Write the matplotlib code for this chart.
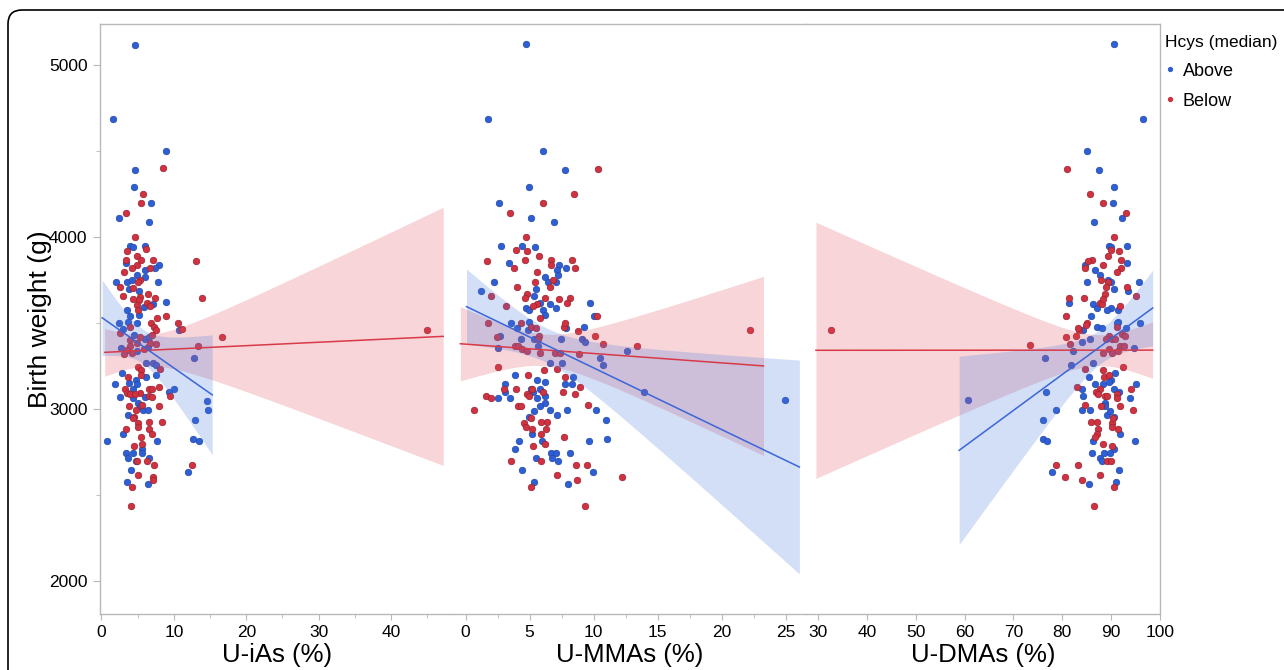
import numpy as np
import matplotlib.pyplot as plt
from matplotlib.lines import Line2D
from matplotlib.patches import FancyBboxPatch
from matplotlib.transforms import IdentityTransform

plt.rcParams['font.family'] = ['Liberation Sans', 'DejaVu Sans']

# Data: (exposure %, birth weight g)
# U-iAs panel
ias_above = [(4.6, 5120), (1.65, 4690), (8.9, 4500), (4.7, 4390), (4.46, 4290), (6.9, 4200), (2.48, 4110),
             (6.57, 4090), (3.9, 3950), (4.4, 3940), (6.0, 3950), (3.4, 3850), (7.95, 3840), (6.07, 3810),
             (7.36, 3820), (4.87, 3780), (6.07, 3770), (1.98, 3740), (3.54, 3740), (4.28, 3750), (7.77, 3740),
             (3.86, 3698), (5.2, 3688), (8.87, 3620), (7.08, 3610), (3.59, 3579), (5.84, 3591), (5.24, 3550),
             (4.0, 3541), (2.39, 3498), (3.68, 3508), (4.97, 3498), (2.94, 3463), (10.76, 3459), (4.55, 3430),
             (5.98, 3407), (2.71, 3357), (4.92, 3337), (12.78, 3297), (6.11, 3269), (7.08, 3269), (7.54, 3256),
             (2.85, 3207), (6.11, 3186), (7.59, 3196), (3.77, 3149), (1.93, 3145), (4.78, 3169), (4.97, 3145),
             (4.37, 3116), (10.07, 3116), (9.29, 3097), (2.57, 3068), (4.37, 3066), (6.02, 3068), (5.1, 3037),
             (5.38, 3017), (14.57, 3047), (5.75, 2996), (6.44, 2996), (14.67, 2996), (3.72, 2965), (12.87, 2936),
             (3.03, 2857), (0.83, 2816), (7.68, 2816), (12.64, 2826), (13.43, 2816), (5.66, 2766), (5.66, 2746),
             (3.4, 2746), (4.37, 2746), (3.72, 2717), (6.53, 2717), (4.78, 2696), (4.05, 2645), (11.91, 2636),
             (3.59, 2576), (6.44, 2566), (6.53, 3421), (6.39, 3362)]
ias_below = [(8.55, 4400), (5.75, 4250), (5.47, 4200), (3.45, 4140), (4.64, 4000), (3.59, 3920), (6.16, 3930),
             (4.87, 3890), (5.5, 3870), (7.08, 3870), (3.36, 3870), (4.92, 3840), (4.18, 3820), (6.7, 3820),
             (3.17, 3800), (5.33, 3750), (5.1, 3740), (13.1, 3860), (2.57, 3711), (4.32, 3707), (6.39, 3669),
             (7.36, 3649), (2.94, 3659), (5.33, 3653), (13.84, 3649), (4.37, 3638), (5.15, 3634), (6.25, 3618),
             (6.67, 3599), (4.87, 3605), (5.01, 3579), (7.72, 3527), (8.87, 3539), (6.8, 3498), (10.62, 3498),
             (3.91, 3479), (7.26, 3479), (7.59, 3459), (11.17, 3467), (2.57, 3440), (5.38, 3421), (7.03, 3430),
             (16.69, 3417), (3.95, 3401), (4.97, 3382), (7.54, 3378), (13.38, 3368), (3.95, 3366), (3.59, 3343),
             (5.93, 3347), (3.13, 3320), (4.18, 3328), (8.05, 3236), (5.06, 3246), (5.47, 3227), (5.43, 3198),
             (3.63, 3184), (8.0, 3126), (3.31, 3116), (6.62, 3116), (6.99, 3116), (3.59, 3095), (5.29, 3095),
             (9.47, 3078), (4.0, 3085), (4.6, 3085), (6.57, 3078), (6.99, 3068), (3.86, 3017), (5.66, 3025),
             (7.95, 3017), (4.74, 2994), (4.51, 2955), (4.41, 2950), (3.4, 2886), (5.1, 2917), (6.53, 2924),
             (8.37, 2926), (5.1, 2895), (6.53, 2886), (6.99, 2857), (5.47, 2835), (5.56, 2797), (4.51, 2787),
             (4.97, 2696), (6.3, 2696), (7.26, 2676), (12.51, 2676), (5.1, 2616), (7.08, 2607), (7.08, 2585),
             (4.18, 2547), (4.09, 2436), (6.67, 3382), (45.0, 3459)]

# U-MMAs panel
mma_above = [(4.75, 5122), (1.78, 4690), (6.05, 4500), (7.75, 4390), (4.96, 4289), (2.64, 4200), (5.12, 4109),
             (6.89, 4089), (2.77, 3950), (4.41, 3950), (5.46, 3940), (3.37, 3849), (7.33, 3839), (7.88, 3820),
             (7.17, 3808), (7.23, 3779), (2.25, 3738), (6.18, 3769), (6.45, 3738), (7.1, 3738), (1.24, 3688),
             (5.48, 3698), (5.33, 3659), (6.6, 3609), (4.7, 3589), (4.96, 3579), (9.75, 3618), (6.03, 3579),
             (7.07, 3589), (5.85, 3618), (6.21, 3548), (10.01, 3539), (3.58, 3498), (4.93, 3508), (4.05, 3469),
             (4.88, 3459), (7.88, 3469), (9.26, 3479), (2.7, 3428), (7.46, 3409), (9.1, 3409), (9.31, 3388),
             (2.51, 3357), (5.66, 3368), (10.48, 3298), (10.74, 3258), (12.59, 3337), (6.63, 3267), (7.57, 3267),
             (5.35, 3409), (4.36, 3409), (3.84, 3198), (3.09, 3147), (5.61, 3167), (6.23, 3157), (8.42, 3188),
             (7.8, 3147), (8.35, 3147), (3.09, 3097), (2.54, 3066), (3.48, 3066), (5.09, 3116), (5.3, 3097),
             (5.85, 3116), (5.59, 3066), (6.23, 3078), (6.23, 3037), (5.8, 3016), (5.38, 2986), (6.63, 2996),
             (7.12, 2967), (7.93, 2996), (10.22, 2996), (4.94, 2955), (10.98, 2936), (5.17, 2857), (6.0, 2816),
             (4.21, 2816), (9.62, 2816), (11.08, 2826), (3.87, 2766), (6.68, 2746), (7.05, 2746), (8.14, 2746),
             (5.51, 2715), (6.73, 2715), (7.25, 2696), (4.39, 2645), (9.99, 2636), (7.98, 2566), (5.38, 2576),
             (24.9, 3050), (13.9, 3099)]
mma_below = [(10.38, 4399), (8.5, 4250), (6.08, 4200), (3.5, 4138), (4.75, 4000), (3.92, 3928), (4.8, 3919),
             (5.77, 3890), (4.65, 3868), (6.7, 3868), (8.29, 3868), (1.71, 3859), (6.7, 3839), (3.82, 3820),
             (8.55, 3820), (5.61, 3798), (5.4, 3738), (6.84, 3748), (4.05, 3709), (6.58, 3709), (4.78, 3669),
             (4.67, 3649), (6.24, 3649), (7.3, 3640), (8.19, 3649), (7.96, 3618), (5.61, 3609), (5.27, 3599),
             (5.82, 3529), (3.16, 3599), (1.97, 3659), (1.76, 3498), (4.36, 3498), (5.12, 3479), (5.53, 3469),
             (5.72, 3428), (5.66, 3409), (2.49, 3417), (3.87, 3368), (4.13, 3368), (4.41, 3347), (4.78, 3339),
             (5.82, 3327), (6.99, 3327), (7.38, 3327), (8.89, 3318), (10.07, 3428), (10.74, 3378), (8.81, 3457),
             (7.67, 3479), (7.8, 3498), (10.3, 3539), (13.35, 3366), (2.51, 3246), (6.13, 3227), (7.17, 3236),
             (4.88, 3198), (3.02, 3116), (3.92, 3116), (5.17, 3116), (6.07, 3097), (1.58, 3076), (1.99, 3066),
             (4.8, 3087), (4.93, 3076), (7.59, 3097), (8.58, 3087), (8.94, 3126), (0.69, 2996), (4.08, 3016),
             (4.31, 3016), (9.6, 3025), (5.09, 2946), (4.6, 2917), (4.75, 2895), (5.2, 2886), (5.86, 2926),
             (6.39, 2926), (6.26, 2886), (5.92, 2857), (6.18, 2797), (5.27, 2787), (7.67, 2837), (3.58, 2696),
             (5.86, 2696), (8.66, 2676), (9.52, 2676), (7.17, 2616), (8.71, 2585), (12.2, 2607), (5.12, 2547),
             (9.36, 2436), (7.8, 3188), (22.2, 3459)]

# U-DMAs panel
dma_above = [(90.6, 5122), (96.55, 4690), (84.97, 4500), (87.43, 4390), (90.6, 4289), (90.45, 4200), (92.3, 4109),
             (86.4, 4089), (89.49, 3950), (89.98, 3940), (93.26, 3950), (84.56, 3839), (93.2, 3849), (86.7, 3808),
             (87.78, 3779), (84.97, 3738), (89.28, 3748), (89.98, 3738), (95.73, 3738), (90.59, 3698),
             (93.46, 3688), (81.28, 3618), (86.27, 3609), (87.09, 3589), (89.9, 3589), (91.41, 3579),
             (89.15, 3579), (85.86, 3539), (95.86, 3498), (91.41, 3508), (91.2, 3498), (87.09, 3479),
             (88.12, 3469), (84.29, 3459), (93.05, 3469), (85.73, 3409), (83.95, 3388), (94.76, 3357),
             (82.3, 3337), (76.55, 3297), (86.27, 3267), (81.76, 3256), (85.38, 3186), (90.79, 3207),
             (89.97, 3167), (86.68, 3147), (88.33, 3147), (89.63, 3157), (95.03, 3147), (83.95, 3116),
             (90.52, 3116), (91.61, 3097), (84.29, 3076), (93.94, 3066), (84.08, 2996), (85.59, 2996),
             (88.74, 3037), (88.81, 3016), (89.22, 2965), (89.76, 2986), (90.59, 2955), (76.76, 3097),
             (78.68, 2996), (76.01, 2936), (76.14, 2826), (76.96, 2816), (91.75, 2857), (94.97, 2816),
             (86.2, 2816), (86.14, 2746), (88.53, 2746), (90.52, 2766), (87.78, 2715), (88.05, 2696),
             (89.7, 2746), (91.54, 2645), (77.99, 2636), (85.45, 2566), (90.99, 2576), (60.7, 3050)]
dma_below = [(80.95, 4399), (85.67, 4250), (88.4, 4200), (92.98, 4138), (90.6, 4000), (89.9, 3928), (91.54, 3919),
             (89.28, 3890), (86.14, 3868), (85.17, 3859), (91.95, 3868), (84.7, 3820), (88.34, 3839),
             (91.95, 3820), (91.13, 3798), (87.84, 3748), (89.43, 3738), (89.01, 3709), (93.32, 3709),
             (81.41, 3649), (84.43, 3649), (87.64, 3618), (88.12, 3609), (88.81, 3669), (88.4, 3640),
             (91.89, 3599), (80.73, 3539), (85.11, 3498), (84.77, 3488), (83.47, 3459), (83.12, 3469),
             (82.78, 3428), (80.73, 3419), (91.2, 3479), (92.23, 3438), (89.63, 3428), (90.25, 3409),
             (90.86, 3409), (88.95, 3409), (81.62, 3378), (91.89, 3368), (92.57, 3368), (88.4, 3328),
             (89.63, 3347), (90.11, 3328), (91.34, 3337), (92.78, 3428), (95.17, 3659), (73.35, 3372),
             (84.7, 3236), (92.36, 3246), (88.33, 3227), (88.53, 3188), (89.56, 3198), (82.99, 3126),
             (87.78, 3116), (86.96, 3097), (87.3, 3087), (88.81, 3076), (89.22, 3076), (91.2, 3087),
             (91.27, 3066), (94.01, 3116), (84.63, 3025), (87.85, 3016), (91.75, 3016), (94.49, 2996),
             (85.79, 2926), (87.03, 2926), (90.11, 2917), (90.45, 2946), (90.18, 2895), (87.23, 2886),
             (91.34, 2886), (87.03, 2857), (86.75, 2837), (88.26, 2797), (90.11, 2787), (89.15, 2696),
             (90.04, 2696), (78.74, 2676), (83.12, 2676), (80.59, 2607), (84.08, 2585), (87.64, 2616),
             (90.65, 2547), (86.48, 2436), (32.7, 3459)]

# Lines of fit:
# x start, x end, fit at start, fit at end, CI half-width at start, at end, narrowest half-width
ias_fit_above = [0.1, 15.3, 3531, 3083, 220, 349, 100]
ias_fit_below = [0.45, 47.2, 3330, 3423, 139, 751, 92]
mma_fit_above = [0.08, 26.06, 3596, 2663, 219, 622, 100]
mma_fit_below = [-0.4, 23.26, 3380, 3251, 216, 521, 92]
dma_fit_above = [58.9, 98.5, 2760, 3588, 548, 220, 100]
dma_fit_below = [29.6, 98.5, 3342, 3343, 745, 165, 90]

x_labels = ['U-iAs (%)', 'U-MMAs (%)', 'U-DMAs (%)']
x_limits = [(-0.2, 48.6), (-0.95, 26.63), (27.7, 100)]
x_major = [[0, 10, 20, 30, 40], [0, 5, 10, 15, 20, 25], [30, 40, 50, 60, 70, 80, 90, 100]]
x_minor = [[5, 15, 25, 35, 45], [2.5, 7.5, 12.5, 17.5, 22.5], []]
y_major = [2000, 3000, 4000, 5000]
y_minor = [2500, 3500, 4500]

BLUE = '#2f5fd4'
BLUE_EDGE = '#2348a8'
RED = '#cf3240'
RED_EDGE = '#9e2030'
FRAME = '#b8b8b8'


def draw_fit(ax, p, color, line_color):
    x0, x1, y0, y1, h0, h1, hmin = p
    a = hmin ** 2
    sb = (np.sqrt(h0 ** 2 - a) + np.sqrt(h1 ** 2 - a)) / (x1 - x0)
    xbar = x0 + np.sqrt(h0 ** 2 - a) / sb
    xs = np.linspace(x0, x1, 300)
    ys = y0 + (y1 - y0) * (xs - x0) / (x1 - x0)
    hw = np.sqrt(a + (sb * (xs - xbar)) ** 2)
    ax.fill_between(xs, ys - hw, ys + hw, color=color, alpha=0.24, lw=0, zorder=3)
    ax.plot(xs, ys, color=line_color, lw=1.1, zorder=4)


fig = plt.figure(figsize=(12.84, 6.70), dpi=100)
gs = fig.add_gridspec(1, 3, left=100 / 1284, right=1160 / 1284,
                      bottom=1 - 614 / 670, top=1 - 24 / 670, wspace=0)
axes = [fig.add_subplot(gs[0, i]) for i in range(3)]

panels = [(ias_above, ias_below, ias_fit_above, ias_fit_below),
          (mma_above, mma_below, mma_fit_above, mma_fit_below),
          (dma_above, dma_below, dma_fit_above, dma_fit_below)]

for i, ax in enumerate(axes):
    above, below, fit_a, fit_b = panels[i]
    a = np.array(above)
    b = np.array(below)
    ax.scatter(a[:, 0], a[:, 1], s=22, color=BLUE, edgecolors=BLUE_EDGE, linewidths=0.5, zorder=2)
    ax.scatter(b[:, 0], b[:, 1], s=22, color=RED, edgecolors=RED_EDGE, linewidths=0.5, zorder=2)
    draw_fit(ax, fit_b, '#e0505e', '#d83a48')
    draw_fit(ax, fit_a, '#4a78e0', '#3a66d8')

    ax.set_xlim(*x_limits[i])
    ax.set_ylim(1808, 5240)
    ax.set_xticks(x_major[i])
    ax.set_xticks(x_minor[i], minor=True)
    ax.set_xlabel(x_labels[i], fontsize=18.5, labelpad=2)
    ax.tick_params(axis='x', which='major', length=4, color=FRAME, labelsize=12.5, pad=4)
    ax.tick_params(axis='x', which='minor', length=3, color=FRAME)
    for side in ['top', 'bottom', 'left', 'right']:
        ax.spines[side].set_color(FRAME)
        ax.spines[side].set_linewidth(1.0)
    if i > 0:
        ax.spines['left'].set_visible(False)
        ax.tick_params(axis='y', which='both', left=False, labelleft=False)
    if i < 2:
        ax.spines['right'].set_visible(False)

ax1 = axes[0]
ax1.set_yticks(y_major)
ax1.set_yticks(y_minor, minor=True)
ax1.tick_params(axis='y', which='major', length=5, color=FRAME, labelsize=12.5, pad=4)
ax1.tick_params(axis='y', which='minor', length=3, color=FRAME)
ax1.set_ylabel('Birth weight (g)', fontsize=19, labelpad=-2)

handles = [Line2D([], [], ls='', marker='o', ms=2.8, color=BLUE),
           Line2D([], [], ls='', marker='o', ms=2.8, color=RED)]
fig.legend(handles, ['Above', 'Below'], title='Hcys (median)', loc='upper left',
           bbox_to_anchor=(1161 / 1284, 1 - 31 / 670), frameon=False, fontsize=13,
           title_fontsize=12.5, alignment='left', handlelength=0.6, handletextpad=0.4,
           labelspacing=0.72, borderpad=0.2, borderaxespad=0)

# rounded outer border running off the right and bottom edges
frame = FancyBboxPatch((8, -60), 1400, 670 - 10 + 60, boxstyle='round,pad=0,rounding_size=14',
                       transform=IdentityTransform(), fill=False, ec='black', lw=1.2)
fig.add_artist(frame)

fig.savefig('out.png', dpi=100)
